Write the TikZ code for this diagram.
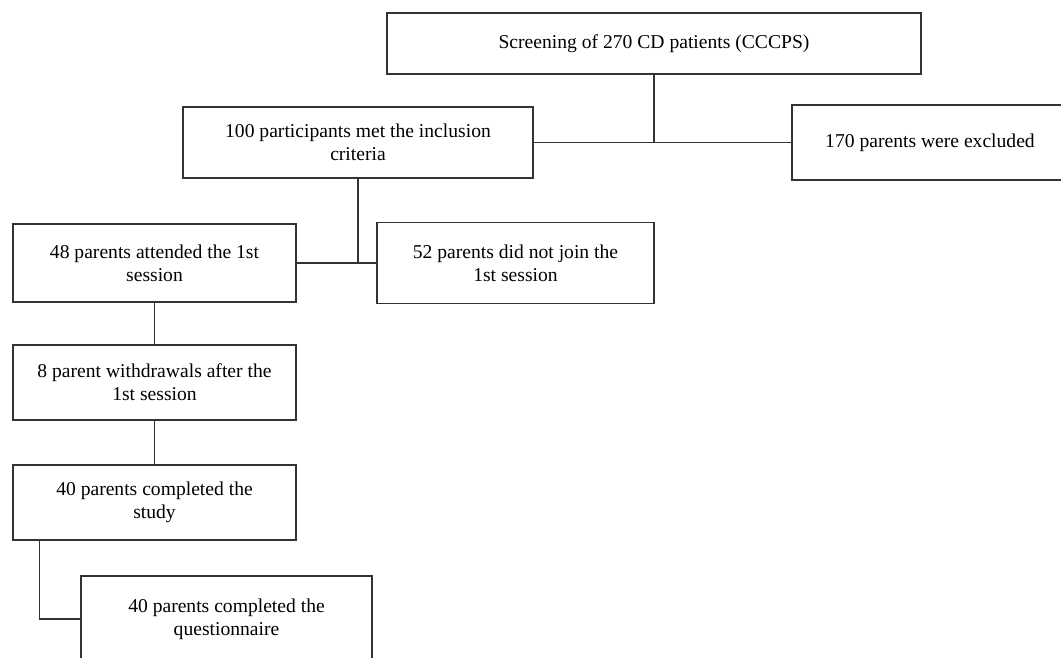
\documentclass[tikz,border=0pt]{standalone}
\usepackage{fontspec}
\setmainfont{Liberation Serif}
\tikzset{
    flowbox/.style={draw=black!80, line width=1.3pt, align=center, inner sep=0pt,
        font=\fontsize{19.6}{23}\selectfont},
    link/.style={draw=black!80, line width=1.3pt}
}
\begin{document}
\begin{tikzpicture}[x=1pt, y=-1pt]
    % 页面范围
    \useasboundingbox (0,0) rectangle (1061,658);

    % 方框
    \node[flowbox, minimum width=534, minimum height=61] (screen) at (654,43.5)
        {Screening of 270 CD patients (CCCPS)};
    \node[flowbox, minimum width=350, minimum height=71] (incl) at (358,142.5)
        {100 participants met the inclusion\\criteria};
    \node[flowbox, minimum width=276, minimum height=75] (excl) at (930,142.5)
        {170 parents were excluded};
    \node[flowbox, minimum width=283, minimum height=78] (attend) at (154.5,263)
        {48 parents attended the 1st\\session};
    \node[flowbox, minimum width=277, minimum height=81] (nojoin) at (515.5,263)
        {52 parents did not join the\\1st session};
    \node[flowbox, minimum width=283, minimum height=75] (withdraw) at (154.5,382.5)
        {8 parent withdrawals after the\\1st session};
    \node[flowbox, minimum width=283, minimum height=75] (study) at (154.5,502.5)
        {40 parents completed the\\study};
    \node[flowbox, minimum width=291, minimum height=86] (quest) at (226.5,619)
        {40 parents completed the\\questionnaire};

    % 连线
    \draw[link] (screen.south) -- (screen.south |- excl.west);
    \draw[link] (incl.east) -- (excl.west);
    \draw[link] (incl.south) -- (incl.south |- attend.east);
    \draw[link] (attend.east) -- (nojoin.west);
    \draw[link] (attend.south) -- (withdraw.north);
    \draw[link] (withdraw.south) -- (study.north);
    \draw[link] ([xshift=27]study.south west) |- (quest.west);
\end{tikzpicture}
\end{document}
